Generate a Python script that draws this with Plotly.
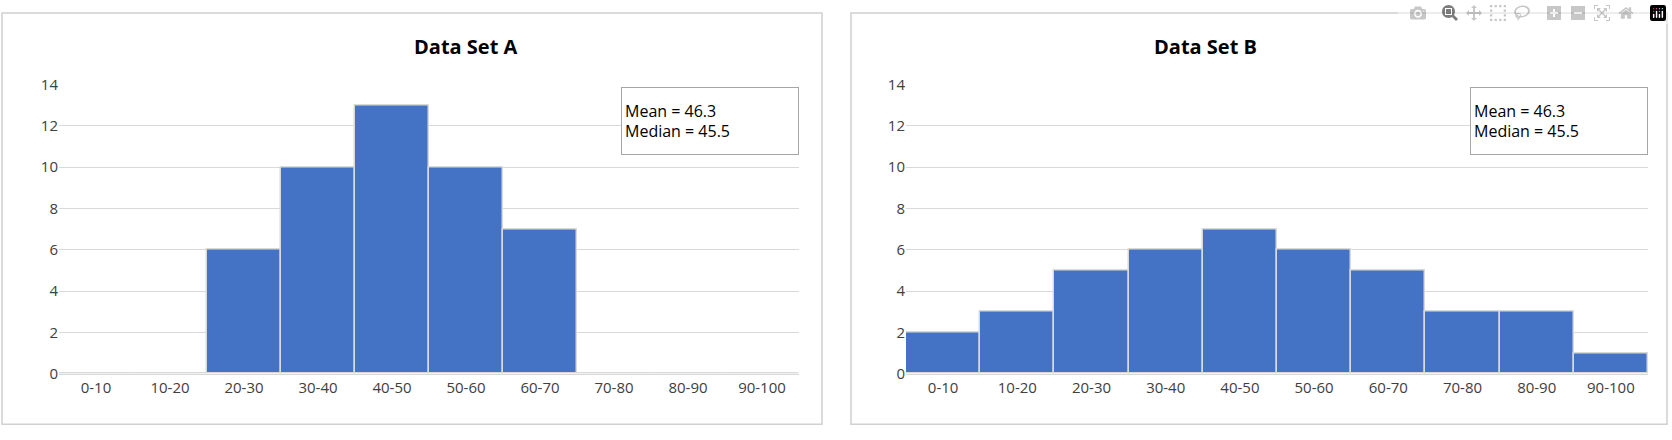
import plotly.graph_objects as go

cats = ["0-10","10-20","20-30","30-40","40-50","50-60","60-70","70-80","80-90","90-100"]
a_vals = [0,0,6,10,13,10,7,0,0,0]
b_vals = [2,3,5,6,7,6,5,3,3,1]
titles = ["Data Set A","Data Set B"]
stats_text = "Mean = 46.3<br>Median = 45.5"

W, H = 1672, 440
def px(x): return x / W
def py(y): return 1 - y / H

fig = go.Figure()
panels = [(a_vals, (59, 799), (2, 822)), (b_vals, (906, 1648), (851, 1667))]
for i, (vals, (l, r), (bl, br)) in enumerate(panels):
    sfx = "" if i == 0 else "2"
    fig.add_trace(go.Bar(x=cats, y=vals, xaxis="x" + sfx, yaxis="y" + sfx, width=1,
                         marker=dict(color="#4472C4", line=dict(color="#D9D9D9", width=1.5)),
                         showlegend=False))
    fig.layout["xaxis" + sfx] = dict(domain=[px(l), px(r)], anchor="y" + sfx, showgrid=False,
                                     showline=True, linecolor="#D9D9D9", ticks="",
                                     tickfont=dict(size=15, color="#404040"))
    fig.layout["yaxis" + sfx] = dict(domain=[py(380), py(77)], anchor="x" + sfx, range=[0, 14],
                                     dtick=2, gridcolor="#D9D9D9", zeroline=False,
                                     tickfont=dict(size=15, color="#404040"))
    fig.add_shape(type="rect", xref="paper", yref="paper", x0=px(bl), x1=px(br), y0=py(433), y1=py(2),
                  line=dict(color="#D0D0D0", width=1.5))
    fig.add_annotation(xref="paper", yref="paper", x=(px(bl) + px(br)) / 2, y=py(37),
                       yanchor="middle", text="<b>" + titles[i] + "</b>", showarrow=False,
                       font=dict(size=20, color="#000"))
    fig.add_annotation(xref="paper", yref="paper", x=px(r), y=py(80), xanchor="right", yanchor="top",
                       text=stats_text, showarrow=False, align="left", width=170, height=60,
                       bgcolor="white", bordercolor="#A6A6A6", borderwidth=1, borderpad=3,
                       font=dict(size=16, color="#000"))

fig.update_layout(autosize=True, margin=dict(l=0, r=0, t=0, b=0), bargap=0,
                  plot_bgcolor="white", paper_bgcolor="white",
                  font=dict(family="Open Sans, Liberation Sans, sans-serif"))
post = ("document.body.style.margin='0';document.body.style.overflow='hidden';"
        "Plotly.Plots.resize(document.getElementById('{plot_id}'));")
fig.write_html("out.html", default_width="100vw", default_height="100vh", post_script=post)
